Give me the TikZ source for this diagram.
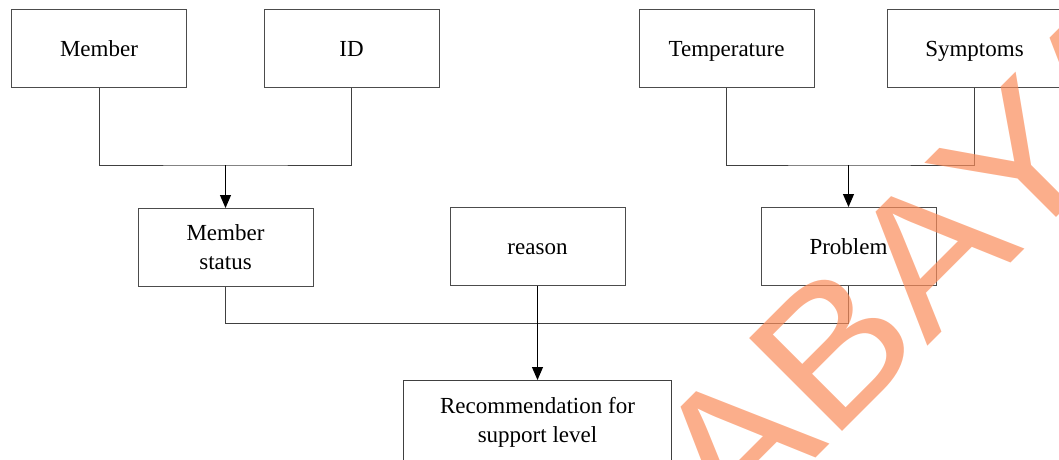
\documentclass[tikz,border=0pt]{standalone}
\usepackage{fontspec}
\setmainfont{Liberation Serif}
\newfontfamily\wmfont{Liberation Sans}
\usetikzlibrary{arrows.meta}
\definecolor{wmcol}{RGB}{250,140,90}
\begin{document}
\begin{tikzpicture}[x=1pt,y=-1pt,
  box/.style={draw=black!70, line width=1pt, minimum width=175pt, minimum height=78pt,
    align=center, inner sep=2pt, font=\fontsize{23}{29}\selectfont},
  oneline/.style={text height=20pt, text depth=4pt},
  plainbox/.style={minimum width=268pt, minimum height=84pt, anchor=north,
    align=center, inner sep=2pt, font=\fontsize{23}{29}\selectfont},
  link/.style={draw=black!75, line width=1pt},
  arrowlink/.style={draw=black, line width=1pt, -{Triangle[length=13pt,width=11pt]}},
  wmark/.style={font=\wmfont\fontsize{191}{191}\selectfont, text=wmcol,
    text opacity=0.7, rotate=45, xscale=1.085, anchor=base west, inner sep=0pt}]
\useasboundingbox (0,0) rectangle (1059,459);
% top row
\node[box, oneline] (m1) at (99,48) {Member};
\node[box, oneline] (id) at (351.5,48) {ID};
\node[box, oneline] (temp) at (726.5,48) {Temperature};
\node[box, oneline] (symp) at (974.5,48) {Symptoms};
% middle row
\node[box] (ms) at (225.5,247.5) {Member\\status};
\node[box, oneline] (reason) at (537.5,246.5) {reason};
\node[box, oneline] (prob) at (848.5,246.5) {Problem};
% bottom
\node[plainbox] (rec) at (537.5,380) {Recommendation for\\support level};
\draw[link] ([yshift=-40pt]rec.south west) -- (rec.north west) -- (rec.north east) -- ([yshift=-40pt]rec.south east);
% junctions
\coordinate (j1) at (225.5,165);
\coordinate (j2) at (848.5,165);
\coordinate (j3) at (537.5,323);
% connectors
\draw[link] (m1.south) |- (j1) -| (id.south);
\draw[arrowlink] (j1) -- (ms.north);
\draw[link] (temp.south) |- (j2) -| (symp.south);
\draw[arrowlink] (j2) -- (prob.north);
\draw[link] (ms.south) |- (j3) -| (prob.south);
\draw[arrowlink] (reason.south) -- (rec.north);
% watermark
\node[wmark] (wm) at (423,851) {SURABAYA};
\end{tikzpicture}
\end{document}
